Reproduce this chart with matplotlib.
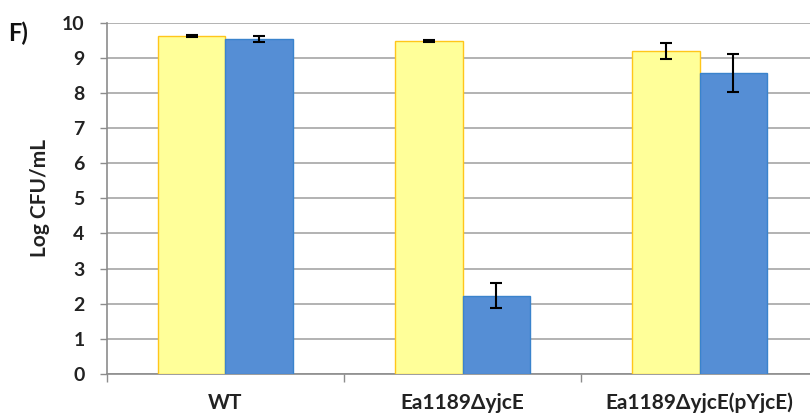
import numpy as np
import matplotlib.pyplot as plt

# data
kategoriat = ["WT", "Ea1189ΔyjcE", "Ea1189ΔyjcE(pYjcE)"]
keltainen = [9.62, 9.48, 9.20]
keltainen_err = [0.03, 0.02, 0.22]
sininen = [9.54, 2.23, 8.58]
sininen_err = [0.08, 0.35, 0.54]

plt.rcParams['font.family'] = ['Lato', 'DejaVu Sans']

fig = plt.figure(figsize=(8.1, 4.15), dpi=100)
ax = fig.add_axes([0.132, 0.099, 0.878, 0.846])

x = np.arange(len(kategoriat))
w = 0.283

ax.bar(x - w/2, keltainen, w, color="#FFFF99", edgecolor="#FFC61A", linewidth=1,
       yerr=keltainen_err, capsize=4, error_kw=dict(ecolor="black", elinewidth=1.5, capthick=1.5), zorder=3)
ax.bar(x + w/2, sininen, w, color="#558ED5", edgecolor="#3A83CC", linewidth=1,
       yerr=sininen_err, capsize=4, error_kw=dict(ecolor="black", elinewidth=1.5, capthick=1.5), zorder=3)

ax.set_xlim(-0.5, 2.5)
ax.set_ylim(0, 10)
ax.set_yticks(range(0, 11))
ax.yaxis.grid(True, color="#A6A6A6", linewidth=1.2, zorder=0)
ax.set_axisbelow(True)

ax.set_xticks([-0.5, 0.5, 1.5])
ax.set_xticklabels([])
ax.set_xticks(x, minor=True)
ax.set_xticklabels(kategoriat, minor=True, fontsize=15, fontweight="bold", color="#222222")
ax.tick_params(axis="x", which="minor", length=0, pad=13.5)
ax.tick_params(axis="x", which="major", length=6, color="#8C8C8C", width=1)
ax.tick_params(axis="y", length=5, color="#8C8C8C", width=1, labelsize=14, pad=11)
for lab in ax.get_yticklabels():
    lab.set_fontweight("bold")
    lab.set_color("#222222")

for s in ["top", "right"]:
    ax.spines[s].set_visible(False)
ax.spines["left"].set_color("#8C8C8C")
ax.spines["bottom"].set_color("#8C8C8C")
ax.spines["left"].set_linewidth(1.2)
ax.spines["bottom"].set_linewidth(1.2)

ax.set_ylabel("Log CFU/mL", fontsize=15, fontweight="bold", color="#222222", labelpad=9)
fig.text(0.01, 0.9, "F)", fontsize=17, fontweight="bold", color="#111111")

fig.savefig("out.png", dpi=100)
